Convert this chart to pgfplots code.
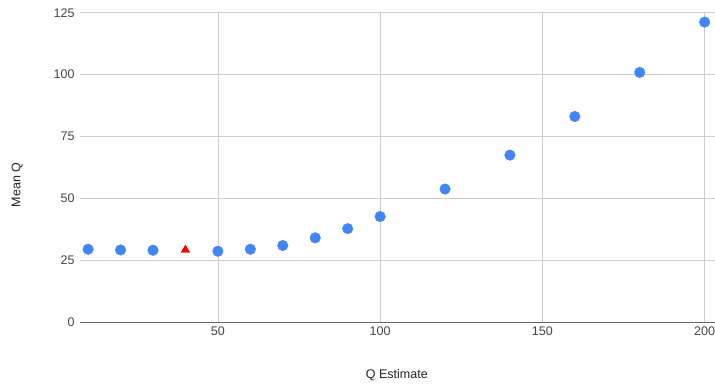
\documentclass[border=0pt]{standalone}
\usepackage{pgfplots}
\pgfplotsset{compat=1.18}
\usepackage{fontspec}
\setmainfont{Liberation Sans}
\definecolor{gblue}{HTML}{4285F4}
\definecolor{ggrid}{HTML}{CCCCCC}
\definecolor{gtick}{HTML}{444444}
\definecolor{gtitle}{HTML}{222222}
\begin{document}
\begin{tikzpicture}
\begin{axis}[
  at={(0,0)}, anchor=south west,
  scale only axis, width=635pt, height=309.6pt,
  xmin=7.5, xmax=203.2, ymin=0, ymax=125,
  axis line style={draw=none},
  xtick={50,100,150,200}, ytick={0,25,50,75,100,125},
  xmajorgrids, ymajorgrids,
  grid style={ggrid, line width=0.8pt},
  major tick length=0pt,
  tick label style={font=\fontsize{12.5}{14}\selectfont, text=gtick},
  /pgf/number format/assume math mode=true,
  yticklabel style={xshift=-2pt},
  xticklabel style={yshift=-1pt},
  clip=false,
]
\draw[gray!80!black, line width=1.2pt] (axis cs:7.5,0) -- (axis cs:203.2,0);
\addplot[only marks, mark=*, mark size=5.3pt, mark options={fill=gblue, draw=gblue}] coordinates {
  (10,29.5) (20,29.2) (30,29.1) (50,28.7) (60,29.5) (70,31.0) (80,34.1) (90,37.8)
  (100,42.7) (120,53.8) (140,67.5) (160,83.1) (180,100.9) (200,121.2)
};
\addplot[only marks, mark=triangle*, mark size=5pt, mark options={fill=red, draw=red}] coordinates {
  (40,29.2)
};
\node[font=\fontsize{12.5}{14}\selectfont, text=gtitle, anchor=center] at (rel axis cs:0.499,-0.170) {Q Estimate};
\node[font=\fontsize{12.5}{14}\selectfont, text=gtitle, anchor=center, rotate=90] at (rel axis cs:-0.099,0.4435) {Mean Q};
\end{axis}
\pgfresetboundingbox
\path[use as bounding box] (-80pt,-60.7pt) rectangle (635pt,322.3pt);
\end{tikzpicture}
\end{document}
